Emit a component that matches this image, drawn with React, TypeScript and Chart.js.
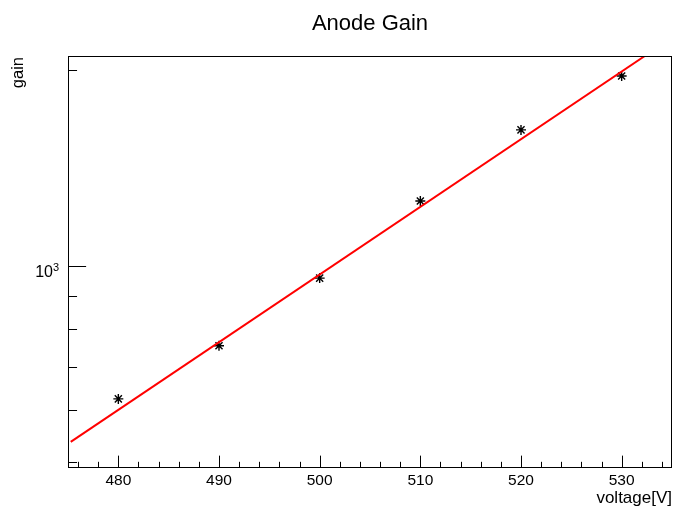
import React, { useEffect, useRef } from "react";
import { Chart, registerables } from "chart.js";

Chart.register(...registerables);

const voltages = [480, 490, 500, 510, 520, 530];
const gains = [625, 754, 958, 1258, 1618, 1958];

const fitX = [475.27, 532.3];
const fitY = [537, 2101];

const xMajorTicks = [480, 490, 500, 510, 520, 530];
const xMinorTicks = [476, 478, 482, 484, 486, 488, 492, 494, 496, 498, 502, 504, 506, 508, 512, 514, 516, 518, 522, 524, 526, 528, 532, 534];
const yMajorTicks = [1000];
const yMinorTicks = [500, 600, 700, 800, 900, 2000];

const title = "Anode Gain";
const xTitle = "voltage[V]";
const yTitle = "gain";

const FONT = "'Liberation Sans', Arial, Helvetica, sans-serif";

const rootPlugin = {
  id: "rootStyle",
  afterDraw(chart: any) {
    const { ctx, chartArea } = chart;
    const xs = chart.scales.x;
    const ys = chart.scales.y;
    const { left, right, top, bottom } = chartArea;
    ctx.save();
    ctx.strokeStyle = "#000";
    ctx.lineWidth = 1;
    // frame
    ctx.strokeRect(left + 0.5, top + 0.5, right - left - 1, bottom - top - 1);
    const xH = bottom - top;
    const yW = right - left;
    const drawXTick = (v: number, len: number) => {
      const px = Math.round(xs.getPixelForValue(v)) + 0.5;
      ctx.beginPath();
      ctx.moveTo(px, bottom);
      ctx.lineTo(px, bottom - len);
      ctx.stroke();
    };
    xMajorTicks.forEach((v) => drawXTick(v, xH * 0.03));
    xMinorTicks.forEach((v) => drawXTick(v, xH * 0.015));
    const drawYTick = (v: number, len: number) => {
      const py = Math.round(ys.getPixelForValue(v)) + 0.5;
      ctx.beginPath();
      ctx.moveTo(left, py);
      ctx.lineTo(left + len, py);
      ctx.stroke();
    };
    yMajorTicks.forEach((v) => drawYTick(v, yW * 0.03));
    yMinorTicks.forEach((v) => drawYTick(v, yW * 0.015));

    ctx.fillStyle = "#000";
    // x tick labels
    ctx.font = `15.5px ${FONT}`;
    ctx.textAlign = "center";
    ctx.textBaseline = "alphabetic";
    xMajorTicks.forEach((v) => {
      ctx.fillText(String(v), xs.getPixelForValue(v), bottom + 17);
    });
    // y tick label 10^3
    yMajorTicks.forEach((v) => {
      const py = ys.getPixelForValue(v);
      const exp = String(Math.round(Math.log10(v)));
      ctx.font = `11px ${FONT}`;
      ctx.textAlign = "left";
      ctx.fillText(exp, left - 15, py + 5);
      ctx.font = `16px ${FONT}`;
      ctx.textAlign = "right";
      ctx.fillText("10", left - 15, py + 11);
    });
    // title
    ctx.font = `22px ${FONT}`;
    ctx.textAlign = "center";
    ctx.fillText(title, (left + right) / 2, 30);
    // x title
    ctx.font = `17px ${FONT}`;
    ctx.textAlign = "right";
    ctx.fillText(xTitle, right, bottom + 35);
    // y title
    ctx.save();
    ctx.translate(23, top + 1);
    ctx.rotate(-Math.PI / 2);
    ctx.font = `16.5px ${FONT}`;
    ctx.textAlign = "right";
    ctx.fillText(yTitle, 0, 0);
    ctx.restore();
    ctx.restore();
  },
};

export default function App() {
  const ref = useRef<HTMLCanvasElement | null>(null);
  useEffect(() => {
    if (!ref.current) return;
    const chart = new Chart(ref.current, {
      type: "scatter",
      data: {
        datasets: [
          {
            label: "fit",
            data: fitX.map((x, i) => ({ x, y: fitY[i] })),
            showLine: true,
            borderColor: "#ff0000",
            borderWidth: 2,
            pointRadius: 0,
            fill: false,
          },
          {
            label: "gain",
            data: voltages.map((x, i) => ({ x, y: gains[i] })),
            showLine: false,
            pointStyle: "star",
            pointRadius: 5,
            borderColor: "#000",
            backgroundColor: "#000",
            borderWidth: 1.4,
          },
        ],
      },
      options: {
        responsive: false,
        animation: false,
        devicePixelRatio: 1,
        layout: { autoPadding: false, padding: { left: 68, top: 56, right: 1, bottom: 41 } },
        plugins: {
          legend: { display: false },
          title: { display: false },
          tooltip: { enabled: false },
        },
        scales: {
          x: { type: "linear", min: 475, max: 535, display: false },
          y: { type: "logarithmic", min: 489.5, max: 2101, display: false },
        },
      },
      plugins: [rootPlugin],
    });
    return () => chart.destroy();
  }, []);
  return (
    <div style={{ position: "fixed", left: 0, top: 0, width: 673, height: 509, background: "#fff" }}>
      <canvas ref={ref} width={673} height={509} style={{ display: "block" }} />
    </div>
  );
}
